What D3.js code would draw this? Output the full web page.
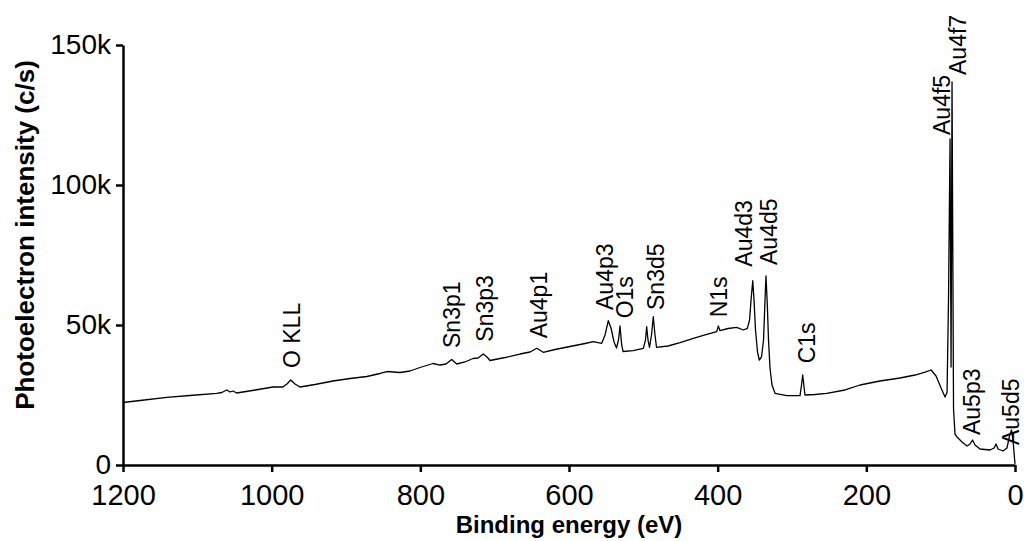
<!DOCTYPE html>
<html>
<head>
<meta charset="utf-8">
<script src="https://cdn.jsdelivr.net/npm/d3@7"></script>
<style>
  body { margin: 0; background: #fff; }
  svg { display: block; }
</style>
</head>
<body>
<svg id="chart"></svg>
<script>
// spectrum (binding energy in eV, intensity in c/s)
const bindingEnergy = [
  1200, 1177, 1141, 1110, 1074, 1067, 1060.5, 1056, 1052, 1047, 1022, 998, 985, 979.4, 974.4, 968.6, 962,
  941.7, 917.5, 894.6, 872, 854.2, 845, 827.3, 813.9, 800.4, 783, 773.5, 765.4, 757.8, 751, 740, 729.1,
  722.4, 715.3, 710.3, 706.3, 686, 665.9, 652.4, 643.4, 634.6, 618.8, 598.6, 578.4, 567.3, 556, 551.5,
  547.1, 543.5, 539.4, 536.1, 533.4, 531.4, 529.1, 527.3, 513.5, 500, 497.1, 495.5, 493.7, 491.7, 489,
  486.6, 484.3, 482.3, 466.8, 450.6, 432.7, 417, 401.3, 399.1, 396.8, 386.1, 374.4, 365.5, 360.1, 357.1,
  355.1, 352.8, 351.1, 349.1, 346.4, 344, 341, 338.3, 336.3, 335, 333.2, 331.6, 329.6, 326.9, 322.8,
  307.1, 289.2, 287.2, 285.6, 283.8, 282.5, 269, 253.3, 228.7, 208.5, 181.7, 154.6, 134.4, 121, 112.9,
  106.2, 99.5, 94.1, 91.4, 89.4, 87.4, 86, 84.7, 82.7, 80.7, 78, 71.3, 64.5, 60.5, 57.1, 53.8, 47.1,
  33.6, 28.2, 25.5, 22.8, 16.1, 10.8, 7.4, 4.7, 2.7, 0.7, 0
]
const intensity = [
  22320, 23040, 24180, 24820, 25610, 25890, 26790, 26070, 26430, 25710, 26790, 27860, 27860, 28930, 30360, 28930, 27860,
  28750, 30000, 30890, 31610, 32680, 33390, 33040, 33570, 34820, 36250, 35710, 36070, 37680, 36070, 36790, 38040,
  38210, 39640, 38570, 37320, 38390, 39640, 40360, 41680, 40250, 41250, 42320, 43390, 44040, 43460, 46430,
  51540, 48930, 43930, 41790, 44640, 49640, 42860, 40540, 40820, 41680, 44640, 49390, 44640, 42040, 46430,
  52960, 46430, 42040, 42500, 43680, 45250, 46430, 47610, 49640, 47960, 48750, 49180, 48210, 48820, 51790,
  58930, 65820, 58930, 48210, 40360, 37500, 38570, 44640, 58930, 67500, 57140, 44640, 34640, 28570, 25610,
  24750, 24750, 28570, 32140, 27860, 25000, 25180, 25610, 26790, 28570, 30000, 31070, 32140, 33210, 33930,
  31790, 27500, 24290, 26000, 60000, 116430, 35000, 136790, 20000, 11000, 10000, 8210, 6790, 7500, 8930, 7140, 5710,
  5360, 6070, 7500, 5710, 5000, 6070, 10360, 12500, 8930, 2500, 400
]

// axis ticks
const xTickValues = [1200, 1000, 800, 600, 400, 200, 0]
const yTickValues = [0, 50000, 100000, 150000]
const yTickLabels = ['0', '50k', '100k', '150k']

// peak labels (name, and where the label starts in data units)
const peakNames = ['O KLL', 'Sn3p1', 'Sn3p3', 'Au4p1', 'Au4p3', 'O1s', 'Sn3d5', 'N1s', 'Au4d3', 'Au4d5', 'C1s', 'Au4f5', 'Au4f7', 'Au5p3', 'Au5d5']
const peakLabelEnergy = [973.3, 758, 713, 641, 552, 524.6, 483, 398, 365, 331, 280, 98.6, 76.7, 57.8, 5.2]
const peakLabelIntensity = [34640, 41790, 44040, 45250, 55360, 52390, 55360, 52750, 70820, 71430, 36320, 117860, 139290, 10710, 7140]

const font = "'Liberation Sans', Arial, sans-serif"
const margin = { top: 45, right: 9, bottom: 76, left: 123 }
const width = 1024 - margin.left - margin.right
const height = 541 - margin.top - margin.bottom

const x = d3.scaleLinear().domain([1200, 0]).range([0, width])
const y = d3.scaleLinear().domain([0, 150000]).range([height, 0])

const svg = d3
  .select('#chart')
  .attr('width', 1024)
  .attr('height', 541)
  .append('g')
  .attr('transform', `translate(${margin.left},${margin.top})`)

// spectrum line
const data = bindingEnergy.map((e, i) => ({ e, v: intensity[i] }))
const line = d3
  .line()
  .x((d) => x(d.e))
  .y((d) => y(d.v))

svg
  .append('path')
  .datum(data)
  .attr('fill', 'none')
  .attr('stroke', '#000')
  .attr('stroke-width', 1.3)
  .attr('stroke-linejoin', 'round')
  .attr('d', line)

// x axis
const xAxis = svg
  .append('g')
  .attr('transform', `translate(0,${height})`)
  .call(d3.axisBottom(x).tickValues(xTickValues).tickFormat(d3.format('d')).tickSize(7).tickSizeOuter(0).tickPadding(12))

xAxis.select('.domain').attr('stroke-width', 2.5)
xAxis.selectAll('.tick line').attr('stroke-width', 2.5)
xAxis
  .selectAll('.tick text')
  .attr('fill', '#000')
  .style('font-family', font)
  .style('font-size', '29px')

// y axis
const yAxis = svg
  .append('g')
  .call(
    d3
      .axisLeft(y)
      .tickValues(yTickValues)
      .tickFormat((d, i) => yTickLabels[i])
      .tickSize(7)
      .tickSizeOuter(0)
      .tickPadding(5)
  )

yAxis.select('.domain').attr('stroke-width', 2.5)
yAxis.selectAll('.tick line').attr('stroke-width', 2.5)
yAxis
  .selectAll('.tick text')
  .attr('fill', '#000')
  .style('font-family', font)
  .style('font-size', '28px')

// peak labels
svg
  .selectAll('.peak')
  .data(peakNames)
  .join('text')
  .attr('class', 'peak')
  .attr('transform', (d, i) => `translate(${x(peakLabelEnergy[i])},${y(peakLabelIntensity[i])}) rotate(-90)`)
  .attr('dy', '0.35em')
  .style('font-family', font)
  .style('font-size', '23px')
  .attr('fill', '#000')
  .text((d) => d)

// axis titles
svg
  .append('text')
  .attr('x', width / 2)
  .attr('y', height + 68)
  .attr('text-anchor', 'middle')
  .style('font-family', font)
  .style('font-size', '24px')
  .style('font-weight', 'bold')
  .text('Binding energy (eV)')

svg
  .append('text')
  .attr('transform', 'rotate(-90)')
  .attr('x', -(235 - margin.top))
  .attr('y', 34 - margin.left)
  .attr('text-anchor', 'middle')
  .style('font-family', font)
  .style('font-size', '26px')
  .style('font-weight', 'bold')
  .text('Photoelectron intensity (c/s)')
</script>
</body>
</html>
